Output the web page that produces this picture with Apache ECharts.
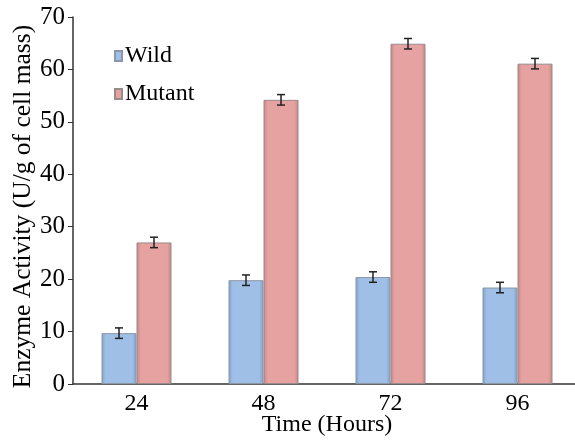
<!DOCTYPE html>
<html>
<head>
<meta charset="utf-8">
<script src="https://cdn.jsdelivr.net/npm/echarts@6/dist/echarts.min.js"></script>
<style>
  html, body { margin: 0; padding: 0; background: #fff; }
  #chart { width: 575px; height: 440px; }
</style>
</head>
<body>
<div id="chart"></div>
<script>
const hours = ['24', '48', '72', '96'];
const wild = [9.7, 19.8, 20.4, 18.4];
const wildErr = [1.0, 1.0, 1.0, 1.0];
const mutant = [27.0, 54.2, 64.9, 61.1];
const mutantErr = [1.0, 1.0, 1.0, 1.0];

const BAR_W = 35;
const serif = '"Liberation Serif", "DejaVu Serif", serif';

function barFill(edge, mid) {
  return new echarts.graphic.LinearGradient(0, 0, 1, 0, [
    { offset: 0, color: edge },
    { offset: 0.12, color: mid },
    { offset: 0.88, color: mid },
    { offset: 1, color: edge }
  ]);
}

// error bars drawn on top of each bar, shifted by half a bar
function errorSeries(values, errs, shift) {
  return {
    type: 'custom',
    z: 10,
    data: values.map((v, i) => [i, v, errs[i]]),
    renderItem: function (params, api) {
      const i = api.value(0);
      const hi = api.coord([i, api.value(1) + api.value(2)]);
      const lo = api.coord([i, api.value(1) - api.value(2)]);
      const x = hi[0] + shift;
      const cap = 4;
      const style = { stroke: '#222', lineWidth: 1.5 };
      return {
        type: 'group',
        children: [
          { type: 'line', shape: { x1: x, y1: hi[1], x2: x, y2: lo[1] }, style: style },
          { type: 'line', shape: { x1: x - cap, y1: hi[1], x2: x + cap, y2: hi[1] }, style: style },
          { type: 'line', shape: { x1: x - cap, y1: lo[1], x2: x + cap, y2: lo[1] }, style: style }
        ]
      };
    },
    silent: true
  };
}

const myChart = echarts.init(document.getElementById('chart'));
myChart.setOption({
  animation: false,
  grid: { left: 73, top: 17, bottom: 56, width: 508, outerBoundsMode: 'none' },
  legend: {
    orient: 'vertical',
    left: 109,
    top: 39,
    itemWidth: 7,
    itemHeight: 10,
    itemGap: 14,
    icon: 'rect',
    textStyle: { fontFamily: serif, fontSize: 24, color: '#000', padding: [0, 0, 0, -2] },
    data: ['Wild', 'Mutant']
  },
  xAxis: {
    type: 'category',
    data: hours,
    name: 'Time (Hours)',
    nameLocation: 'middle',
    nameGap: 29,
    nameMoveOverlap: false,
    nameTextStyle: { fontFamily: serif, fontSize: 24, color: '#000' },
    axisLine: { lineStyle: { color: '#333', width: 1.5 } },
    axisTick: { show: false },
    axisLabel: { fontFamily: serif, fontSize: 24, color: '#000', margin: 8 }
  },
  yAxis: {
    type: 'value',
    min: 0,
    max: 70,
    interval: 10,
    name: 'Enzyme Activity (U/g of cell mass)',
    nameLocation: 'middle',
    nameGap: 37,
    nameMoveOverlap: false,
    nameTextStyle: { fontFamily: serif, fontSize: 25.5, color: '#000', padding: [0, 12, 0, 0] },
    axisLine: { show: true, lineStyle: { color: '#333', width: 1.5 } },
    axisTick: { show: true, length: 5, lineStyle: { color: '#333' } },
    splitLine: { show: false },
    axisLabel: { fontFamily: serif, fontSize: 25, color: '#000', margin: 8 }
  },
  series: [
    {
      name: 'Wild',
      type: 'bar',
      data: wild,
      barWidth: BAR_W,
      barGap: '0%',
      itemStyle: {
        color: barFill('#7f9fcb', '#9fbfe6'),
        borderColor: '#8a97a8',
        borderWidth: 1
      }
    },
    {
      name: 'Mutant',
      type: 'bar',
      data: mutant,
      barWidth: BAR_W,
      barGap: '0%',
      itemStyle: {
        color: barFill('#c48484', '#e6a1a1'),
        borderColor: '#9a8a8a',
        borderWidth: 1
      }
    },
    errorSeries(wild, wildErr, -BAR_W / 2),
    errorSeries(mutant, mutantErr, BAR_W / 2)
  ]
});
</script>
</body>
</html>
